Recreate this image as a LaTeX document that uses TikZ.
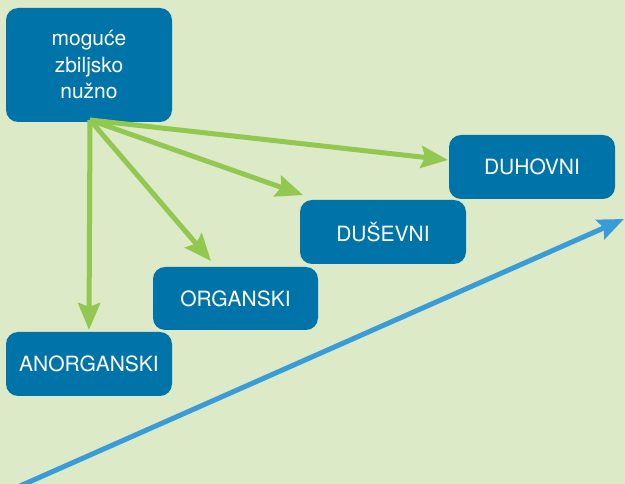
\documentclass[tikz,border=0pt]{standalone}
\usepackage{fontspec}
\setmainfont{TeX Gyre Heros}
\usetikzlibrary{arrows.meta}
\definecolor{bg}{HTML}{DDEAC8}
\definecolor{boxblue}{HTML}{0074A8}
\definecolor{arrgreen}{HTML}{92C850}
\definecolor{arrblue}{HTML}{3A9BD9}
\tikzset{
  box/.style={draw=none, fill=boxblue, rounded corners=12pt, text=white,
    inner sep=0pt, minimum width=166pt, minimum height=64pt, align=center,
    font=\fontsize{21}{26.5}\selectfont},
  garrow/.style={draw=arrgreen, line width=5pt,
    -{Stealth[length=27pt, width=22pt, inset=4pt]}},
  barrow/.style={draw=arrblue, line width=5pt,
    -{Stealth[length=26pt, width=21pt, inset=4pt]}}
}
\begin{document}
\begin{tikzpicture}[x=1pt, y=-1pt]
\fill[bg] (0,0) rectangle (625,484);
\useasboundingbox (0,0) rectangle (625,484);
\node[box, minimum height=114pt] (top) at (89,65) {moguće\\zbiljsko\\nužno};
\node[box] (duh) at (532,167) {DUHOVNI};
\node[box] (dus) at (383,232) {DUŠEVNI};
\node[box, minimum width=165pt, minimum height=63pt] (org) at (235.5,298.5) {ORGANSKI};
\node[box] (anorg) at (89,364) {ANORGANSKI};
\coordinate (src) at (90,120);
\coordinate (tanorg) at (89,330);
\coordinate (torg) at (211,261);
\coordinate (tdus) at (303,195);
\coordinate (tduh) at (448,160);
\draw[garrow] (src) -- (tanorg);
\draw[garrow] (src) -- (torg);
\draw[garrow] (src) -- (tdus);
\draw[garrow] (src) -- (tduh);
\coordinate (bstart) at (20,486);
\coordinate (bend) at (624,219);
\draw[barrow] (bstart) -- (bend);
\end{tikzpicture}
\end{document}
